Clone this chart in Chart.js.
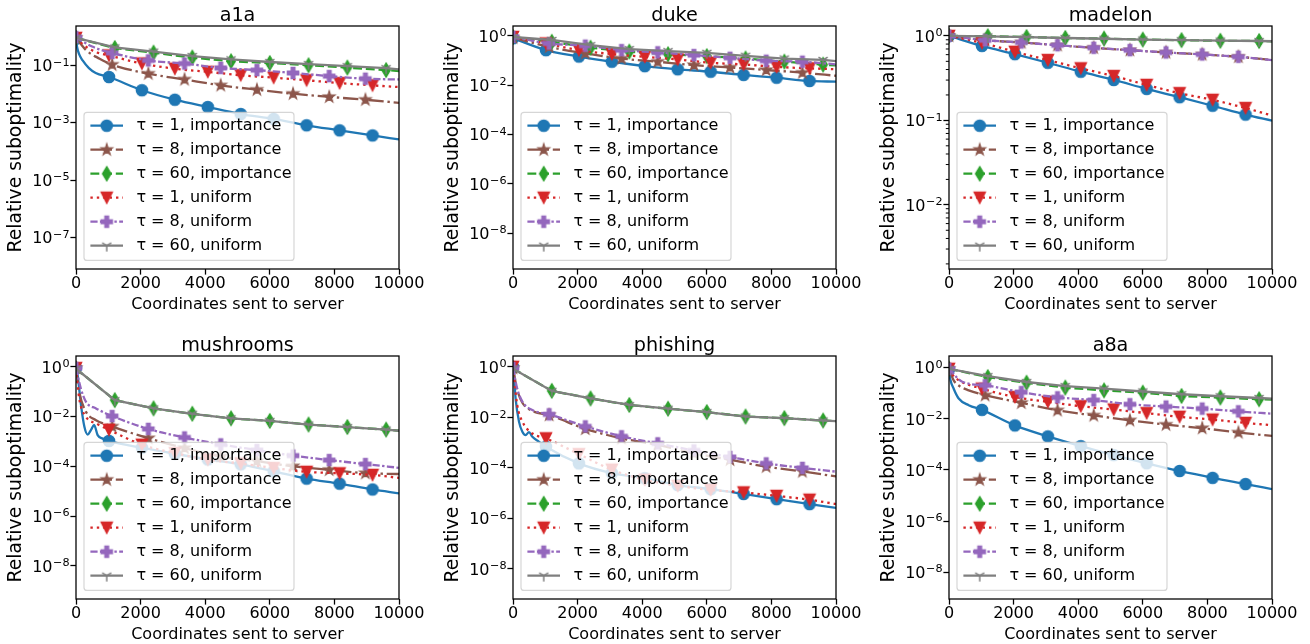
<!DOCTYPE html>
<html><head><meta charset="utf-8">
<script src="https://cdn.jsdelivr.net/npm/chart.js@4.4.0/dist/chart.umd.min.js"></script>
<style>
html,body{margin:0;padding:0;background:#fff;width:1310px;height:644px;overflow:hidden;position:relative}
canvas{position:absolute}
</style></head><body>
<script>
// ---------------- DATA ----------------
const panelTitles = ['a1a','duke','madelon','mushrooms','phishing','a8a'];
const seriesNames = ['τ = 1, importance','τ = 8, importance','τ = 60, importance','τ = 1, uniform','τ = 8, uniform','τ = 60, uniform'];
const seriesTau = [1,8,60,1,8,60];
const markX_t1 = [0,1020,2040,3060,4080,5100,6120,7140,8160,9180];
const markX_t8 = [0,1120,2240,3360,4480,5600,6720,7840,8960];
const markX_t60 = [0,1200,2400,3600,4800,6000,7200,8400,9600];
const xTickValues = [0,2000,4000,6000,8000,10000];
const yTicks_a1a = [1e-7,1e-5,1e-3,1e-1];
const yTicks_even = [1e-8,1e-6,1e-4,1e-2,1];
const yTicks_madelon = [1e-2,1e-1,1];
const yLimits = [[7.94e-9,2.34],[3.47e-10,2.51],[1.74e-3,1.31],[4.57e-10,2.75],[6.46e-10,2.69],[8.9e-10,2.86]];

// a1a
const a1a_t1_imp = [[0,0.85],[30,0.45],[100,0.24],[200,0.15],[400,0.08],[610,0.054],[1020,0.039],[2040,0.0135],[3060,0.0063],[4080,0.0035],[5100,0.0020],[6120,0.00135],[7140,0.00081],[8160,0.00054],[9180,0.00036],[10000,0.00026]];
const a1a_t8_imp = [[0,0.9],[320,0.33],[730,0.17],[1120,0.105],[2240,0.051],[3360,0.032],[4480,0.020],[5600,0.0141],[6720,0.0102],[7840,0.0079],[8960,0.0063],[10000,0.0049]];
const a1a_t60_imp = [[0,0.9],[1200,0.40],[2400,0.275],[3600,0.186],[4800,0.138],[6000,0.120],[7200,0.100],[8400,0.083],[9600,0.068],[10000,0.063]];
const a1a_t1_uni = [[0,0.9],[300,0.45],[650,0.28],[1020,0.22],[2040,0.115],[3060,0.076],[4080,0.059],[5100,0.045],[6120,0.037],[7140,0.030],[8160,0.024],[9180,0.020],[10000,0.0174]];
const a1a_t8_uni = [[0,0.95],[500,0.45],[1120,0.27],[2240,0.148],[3360,0.115],[4480,0.081],[5600,0.068],[6720,0.054],[7840,0.042],[8960,0.034],[10000,0.032]];
const a1a_t60_uni = [[0,0.9],[1200,0.42],[2400,0.30],[3600,0.21],[4800,0.16],[6000,0.13],[7200,0.11],[8400,0.093],[9600,0.079],[10000,0.072]];
// duke
const duke_t1_imp = [[0,0.8],[1020,0.263],[2040,0.145],[3060,0.089],[4080,0.059],[5100,0.044],[6120,0.035],[7140,0.026],[8160,0.020],[9180,0.0148],[10000,0.0138]];
const duke_t8_imp = [[0,0.85],[1120,0.355],[2240,0.195],[3360,0.120],[4480,0.089],[5600,0.065],[6720,0.052],[7840,0.041],[8960,0.032],[10000,0.024]];
const duke_t60_imp = [[0,0.9],[1200,0.575],[2400,0.33],[3600,0.23],[4800,0.18],[6000,0.15],[7200,0.12],[8400,0.09],[9600,0.068],[10000,0.063]];
const duke_t1_uni = [[0,0.9],[1020,0.49],[2040,0.263],[3060,0.182],[4080,0.141],[5100,0.110],[6120,0.081],[7140,0.069],[8160,0.055],[9180,0.048],[10000,0.044]];
const duke_t8_uni = [[0,0.9],[1120,0.49],[2240,0.40],[3360,0.263],[4480,0.214],[5600,0.166],[6720,0.129],[7840,0.098],[8960,0.089],[10000,0.07]];
const duke_t60_uni = [[0,0.9],[1200,0.68],[2400,0.42],[3600,0.29],[4800,0.24],[6000,0.204],[7200,0.155],[8400,0.12],[9600,0.105],[10000,0.095]];
// madelon
const madelon_t1_imp = [[0,1.0],[1020,0.762],[2040,0.608],[3060,0.481],[4080,0.377],[5100,0.301],[6120,0.236],[7140,0.188],[8160,0.149],[9180,0.117],[10000,0.099]];
const madelon_t8_imp = [[0,1.0],[1120,0.889],[2240,0.836],[3360,0.776],[4480,0.723],[5600,0.678],[6720,0.637],[7840,0.603],[8960,0.566],[10000,0.518]];
const madelon_t60_imp = [[0,1.0],[1200,0.99],[2400,0.97],[3600,0.945],[4800,0.93],[6000,0.905],[7200,0.89],[8400,0.875],[9600,0.87],[10000,0.865]];
const madelon_t1_uni = [[0,1.0],[1020,0.828],[2040,0.649],[3060,0.518],[4080,0.413],[5100,0.335],[6120,0.263],[7140,0.210],[8160,0.175],[9180,0.140],[10000,0.114]];
const madelon_t8_uni = [[0,1.0],[1120,0.889],[2240,0.836],[3360,0.776],[4480,0.723],[5600,0.678],[6720,0.637],[7840,0.603],[8960,0.566],[10000,0.518]];
const madelon_t60_uni = [[0,1.0],[1200,0.985],[2400,0.965],[3600,0.945],[4800,0.925],[6000,0.905],[7200,0.89],[8400,0.88],[9600,0.87],[10000,0.865]];
// mushrooms
const mush_t1_imp = [[0,0.9],[50,0.47],[155,0.029],[260,0.0039],[360,0.0019],[465,0.0029],[560,0.0046],[670,0.0018],[830,0.0013],[1020,0.00105],[2040,0.00056],[3060,0.00032],[4080,0.00019],[5100,0.00012],[6120,6.3e-5],[7140,3.2e-5],[8160,2.0e-5],[9180,1.17e-5],[10000,8.1e-6]];
const mush_t8_imp = [[0,0.9],[100,0.1],[310,0.0155],[620,0.0072],[1120,0.0040],[2240,0.00135],[3360,0.00054],[4480,0.00025],[5600,0.00016],[6720,0.0001],[7840,7.2e-5],[8960,5.3e-5],[10000,4.9e-5]];
const mush_t60_imp = [[0,0.85],[1200,0.046],[2400,0.0214],[3600,0.013],[4800,0.0085],[6000,0.0067],[7200,0.0048],[8400,0.0038],[9600,0.003],[10000,0.0027]];
const mush_t1_uni = [[0,0.9],[100,0.054],[310,0.0098],[620,0.0053],[1020,0.00295],[2040,0.00074],[3060,0.00034],[4080,0.000186],[5100,0.000129],[6120,8.5e-5],[7140,6.0e-5],[8160,5.2e-5],[9180,4.5e-5],[10000,3.4e-5]];
const mush_t8_uni = [[0,0.9],[150,0.135],[310,0.039],[620,0.0214],[1120,0.0105],[2240,0.0032],[3360,0.00145],[4480,0.00076],[5600,0.00045],[6720,0.00027],[7840,0.000178],[8960,0.000123],[10000,8.7e-5]];
const mush_t60_uni = [[0,0.85],[1200,0.046],[2400,0.0214],[3600,0.013],[4800,0.0085],[6000,0.0067],[7200,0.0048],[8400,0.0038],[9600,0.003],[10000,0.0027]];
// phishing
const phish_t1_imp = [[0,1.0],[30,0.47],[80,0.056],[185,0.0068],[290,0.0027],[390,0.002],[495,0.0026],[600,0.0017],[800,0.0011],[1020,0.00069],[2040,0.000151],[3060,6.2e-5],[4080,3.9e-5],[5100,2.1e-5],[6120,1.45e-5],[7140,9.3e-6],[8160,5.8e-6],[9180,3.7e-6],[10000,2.6e-6]];
const phish_t8_imp = [[0,0.9],[130,0.125],[290,0.038],[600,0.018],[1120,0.0123],[2240,0.0035],[3360,0.00148],[4480,0.00081],[5600,0.00038],[6720,0.00021],[7840,0.000112],[8960,7.2e-5],[10000,4.6e-5]];
const phish_t60_imp = [[0,0.85],[1200,0.112],[2400,0.056],[3600,0.031],[4800,0.022],[6000,0.0162],[7200,0.0108],[8400,0.0093],[9600,0.0075],[10000,0.0071]];
const phish_t1_uni = [[0,1.0],[130,0.031],[290,0.0068],[600,0.0023],[1020,0.00148],[2040,0.00035],[3060,8.5e-5],[4080,3.4e-5],[5100,1.95e-5],[6120,1.35e-5],[7140,1.07e-5],[8160,7.8e-6],[9180,5.5e-6],[10000,3.7e-6]];
const phish_t8_uni = [[0,0.9],[130,0.138],[290,0.042],[600,0.0195],[1120,0.0132],[2240,0.0044],[3360,0.00178],[4480,0.00093],[5600,0.00049],[6720,0.00027],[7840,0.000151],[8960,0.0001],[10000,7.1e-5]];
const phish_t60_uni = [[0,0.85],[1200,0.112],[2400,0.056],[3600,0.031],[4800,0.022],[6000,0.0162],[7200,0.0108],[8400,0.0093],[9600,0.0075],[10000,0.0071]];
// a8a
const a8a_t1_imp = [[0,0.85],[40,0.35],[145,0.15],[300,0.062],[610,0.034],[1020,0.0224],[2040,0.0055],[3060,0.00204],[4080,0.00085],[5100,0.00038],[6120,0.000182],[7140,9.1e-5],[8160,4.9e-5],[9180,2.8e-5],[10000,1.78e-5]];
const a8a_t8_imp = [[0,0.9],[145,0.32],[300,0.2],[610,0.13],[1120,0.083],[2240,0.042],[3360,0.0214],[4480,0.0135],[5600,0.0087],[6720,0.0059],[7840,0.0043],[8960,0.0029],[10000,0.00214]];
const a8a_t60_imp = [[0,0.9],[1200,0.427],[2400,0.257],[3600,0.166],[4800,0.129],[6000,0.105],[7200,0.078],[8400,0.068],[9600,0.058],[10000,0.056]];
const a8a_t1_uni = [[0,0.9],[100,0.55],[300,0.32],[1020,0.151],[2040,0.071],[3060,0.046],[4080,0.031],[5100,0.023],[6120,0.0166],[7140,0.012],[8160,0.0093],[9180,0.0069],[10000,0.0056]];
const a8a_t8_uni = [[0,0.9],[410,0.28],[1120,0.204],[2240,0.110],[3360,0.069],[4480,0.054],[5600,0.037],[6720,0.030],[7840,0.025],[8960,0.0195],[10000,0.0158]];
const a8a_t60_uni = [[0,0.9],[1200,0.468],[2400,0.275],[3600,0.19],[4800,0.151],[6000,0.117],[7200,0.091],[8400,0.076],[9600,0.065],[10000,0.062]];

// ---------------- STYLE / LAYOUT ----------------
const FONT = "'DejaVu Sans', sans-serif";
const LW = 2.3;
const STYLE = [
  {color:'#1f77b4', dash:[], marker:'o'},
  {color:'#8c564b', dash:[15.4,3.8,2.4,3.8], marker:'*'},
  {color:'#2ca02c', dash:[8.9,3.8], marker:'d'},
  {color:'#d62728', dash:[2.4,4.0], marker:'v'},
  {color:'#9467bd', dash:[7.2,2.4,2.4,2.4], marker:'P'},
  {color:'#7f7f7f', dash:[], marker:'1'}
];
const panels = [
  {series:[a1a_t1_imp,a1a_t8_imp,a1a_t60_imp,a1a_t1_uni,a1a_t8_uni,a1a_t60_uni], ticks:yTicks_a1a, minor:false},
  {series:[duke_t1_imp,duke_t8_imp,duke_t60_imp,duke_t1_uni,duke_t8_uni,duke_t60_uni], ticks:yTicks_even, minor:false},
  {series:[madelon_t1_imp,madelon_t8_imp,madelon_t60_imp,madelon_t1_uni,madelon_t8_uni,madelon_t60_uni], ticks:yTicks_madelon, minor:true},
  {series:[mush_t1_imp,mush_t8_imp,mush_t60_imp,mush_t1_uni,mush_t8_uni,mush_t60_uni], ticks:yTicks_even, minor:false},
  {series:[phish_t1_imp,phish_t8_imp,phish_t60_imp,phish_t1_uni,phish_t8_uni,phish_t60_uni], ticks:yTicks_even, minor:false},
  {series:[a8a_t1_imp,a8a_t8_imp,a8a_t60_imp,a8a_t1_uni,a8a_t8_uni,a8a_t60_uni], ticks:yTicks_even, minor:false}
];
const colLeft = [76, 513, 949], rowTop = [26, 356];
const PW = 323, PH = 243, PADL = 76, PADT = 30, PADR = 34, PADB = 45;

function makeMarker(kind, color) {
  const S = 22, c = S / 2, m = 5.7;
  const cv = document.createElement('canvas'); cv.width = S; cv.height = S;
  const g = cv.getContext('2d');
  g.fillStyle = color; g.strokeStyle = color; g.lineWidth = 1.2; g.lineJoin = 'miter';
  g.beginPath();
  if (kind === 'o') { g.arc(c, c, m, 0, Math.PI * 2); }
  else if (kind === '*') {
    const R = m * 1.05;
    for (let k = 0; k < 10; k++) { const r = k % 2 ? R * 0.381966 : R; const a = -Math.PI / 2 + k * Math.PI / 5;
      const px = c + r * Math.cos(a), py = c + r * Math.sin(a); if (k) g.lineTo(px, py); else g.moveTo(px, py); }
    g.closePath();
  } else if (kind === 'd') { const h = 7.2, w = 4.3; g.moveTo(c, c - h); g.lineTo(c + w, c); g.lineTo(c, c + h); g.lineTo(c - w, c); g.closePath(); }
  else if (kind === 'v') { g.moveTo(c - m, c - m); g.lineTo(c + m, c - m); g.lineTo(c, c + m); g.closePath(); }
  else if (kind === 'P') {
    const u = m / 3; const pts = [[-1,-3],[1,-3],[1,-1],[3,-1],[3,1],[1,1],[1,3],[-1,3],[-1,1],[-3,1],[-3,-1],[-1,-1]];
    pts.forEach((p, k) => { const px = c + p[0] * u, py = c + p[1] * u; if (k) g.lineTo(px, py); else g.moveTo(px, py); });
    g.closePath();
  } else if (kind === '1') {
    g.moveTo(c, c); g.lineTo(c, c + m); g.moveTo(c, c); g.lineTo(c + 0.8 * m, c - 0.5 * m); g.moveTo(c, c); g.lineTo(c - 0.8 * m, c - 0.5 * m);
  }
  if (kind === '1') { g.lineWidth = 1.5; g.stroke(); } else { g.fill(); g.stroke(); }
  return cv;
}
const MARKERS = STYLE.map(s => makeMarker(s.marker, s.color));
function expOf(v) { return Math.round(Math.log10(v)); }
function expText(v) { const e = expOf(v); return e < 0 ? '\u2212' + (-e) : String(e); }
function markSet(tau) { return tau === 1 ? markX_t1 : (tau === 8 ? markX_t8 : markX_t60); }

panels.forEach((P, pi) => {
  const col = pi % 3, row = Math.floor(pi / 3);
  const cv = document.createElement('canvas');
  const W = PADL + PW + PADR, H = PADT + PH + PADB;
  cv.width = W; cv.height = H;
  cv.style.left = (colLeft[col] - PADL) + 'px'; cv.style.top = (rowTop[row] - PADT) + 'px';
  cv.style.width = W + 'px'; cv.style.height = H + 'px';
  document.body.appendChild(cv);
  const [yMin, yMax] = yLimits[pi];
  const minorVals = [];
  if (P.minor) { for (let d = -3; d <= 0; d++) for (let k = 2; k <= 9; k++) { const v = k * Math.pow(10, d); if (v > yMin && v < yMax) minorVals.push(v); } }

  const frame = {
    id: 'frame' + pi,
    afterDatasetsDraw(chart) {
      const ctx = chart.ctx, ca = chart.chartArea, ys = chart.scales.y;
      ctx.save();
      ctx.strokeStyle = '#000'; ctx.lineWidth = 1;
      minorVals.forEach(v => { const y = ys.getPixelForValue(v); ctx.beginPath(); ctx.moveTo(ca.left - 3.2, y); ctx.lineTo(ca.left, y); ctx.stroke(); });
      ctx.lineWidth = 1.28; ctx.strokeRect(ca.left, ca.top, ca.right - ca.left, ca.bottom - ca.top);
      // y tick labels (10 with raised exponent, mathtext style)
      ctx.fillStyle = '#000'; ctx.textBaseline = 'alphabetic'; ctx.textAlign = 'left';
      ys.ticks.forEach(t => {
        const y = ys.getPixelForValue(t.value);
        const ex = expText(t.value);
        ctx.font = '16px ' + FONT; const wb = ctx.measureText('10').width;
        ctx.font = '11.2px ' + FONT; const we = ctx.measureText(ex).width;
        const right = ca.left - 6.5;
        const x0 = right - we - wb - 0.5;
        ctx.font = '16px ' + FONT; ctx.fillText('10', x0, y + 5.8);
        ctx.font = '11.2px ' + FONT; ctx.fillText(ex, x0 + wb + 0.5, y + 0.3);
      });
      // title
      ctx.font = '19.2px ' + FONT; ctx.textAlign = 'center';
      ctx.fillText(panelTitles[pi], (ca.left + ca.right) / 2, ca.top - 5);
      // legend
      const bw = 210, bh = 148, bx = ca.left + 8, by = ca.bottom - 8.6 - bh;
      ctx.beginPath();
      if (ctx.roundRect) ctx.roundRect(bx, by, bw, bh, 3); else ctx.rect(bx, by, bw, bh);
      ctx.fillStyle = 'rgba(255,255,255,0.8)'; ctx.fill();
      ctx.strokeStyle = 'rgba(204,204,204,0.8)'; ctx.lineWidth = 1.2; ctx.stroke();
      seriesNames.forEach((name, i) => {
        const y = by + 13.3 + 24 * i;
        ctx.beginPath(); ctx.setLineDash(STYLE[i].dash); ctx.lineDashOffset = 0;
        ctx.strokeStyle = STYLE[i].color; ctx.lineWidth = LW;
        ctx.moveTo(bx + 6.4, y); ctx.lineTo(bx + 39, y); ctx.stroke(); ctx.setLineDash([]);
        const mk = MARKERS[i]; ctx.drawImage(mk, bx + 22.7 - mk.width / 2, y - mk.height / 2);
        ctx.fillStyle = '#000'; ctx.font = '16px ' + FONT; ctx.textAlign = 'left'; ctx.textBaseline = 'middle';
        ctx.fillText(name, bx + 52.4, y);
      });
      ctx.restore();
    }
  };

  new Chart(cv, {
    type: 'line',
    data: {
      datasets: P.series.map((s, i) => {
        const marks = markSet(seriesTau[i]);
        return {
          label: seriesNames[i],
          data: s.map(p => ({x: p[0], y: p[1]})),
          borderColor: STYLE[i].color, backgroundColor: STYLE[i].color,
          borderWidth: LW, borderDash: STYLE[i].dash, fill: false,
          tension: 0, cubicInterpolationMode: seriesTau[i] === 60 ? 'default' : 'monotone',
          pointStyle: MARKERS[i],
          pointRadius: ctx => (ctx.raw && marks.includes(ctx.raw.x)) ? 6 : 0,
          pointHoverRadius: 0, order: 5 - i, clip: 0
        };
      })
    },
    options: {
      responsive: false, animation: false, events: [],
      layout: {padding: {left: 0, top: PADT, right: PADR, bottom: 0}},
      plugins: {legend: {display: false}, tooltip: {enabled: false}, title: {display: false}},
      scales: {
        x: {
          type: 'linear', min: 0, max: 10000,
          afterFit(s) { s.height = PADB; },
          afterBuildTicks(s) { s.ticks = xTickValues.map(v => ({value: v})); },
          ticks: {callback: v => String(v), font: {family: FONT, size: 16}, color: '#000', padding: 0, maxRotation: 0, autoSkip: false},
          grid: {drawOnChartArea: false, drawTicks: true, tickLength: 5.6, tickWidth: 1.28, tickColor: '#000'},
          border: {display: false},
          title: {display: true, text: 'Coordinates sent to server', font: {family: FONT, size: 16}, color: '#000', padding: {top: 0, bottom: 0}}
        },
        y: {
          type: 'logarithmic', min: yMin, max: yMax,
          afterFit(s) { s.width = PADL; },
          afterBuildTicks(s) { s.ticks = P.ticks.map(v => ({value: v})); },
          ticks: {display: false},
          grid: {drawOnChartArea: false, drawTicks: true, tickLength: 5.6, tickWidth: 1.28, tickColor: '#000'},
          border: {display: false},
          title: {display: true, text: 'Relative suboptimality', font: {family: FONT, size: 18.8}, color: '#000', padding: {top: 5, bottom: 0}}
        }
      }
    },
    plugins: [frame]
  });
});
</script>
</body></html>
